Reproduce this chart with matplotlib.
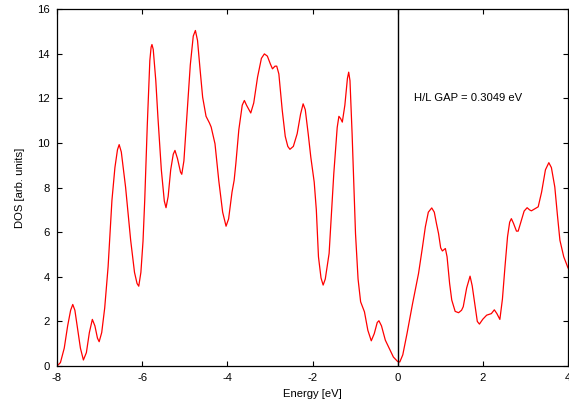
import matplotlib
matplotlib.use("Agg")
import matplotlib.pyplot as plt

energy = [-8.00, -7.92, -7.83, -7.75, -7.68, -7.63, -7.58, -7.52, -7.45, -7.38,
          -7.31, -7.24, -7.17, -7.11, -7.05, -7.01, -6.95, -6.88, -6.80, -6.71,
          -6.64, -6.58, -6.54, -6.49, -6.39, -6.27, -6.18, -6.12, -6.08, -6.03,
          -5.98, -5.94, -5.88, -5.82, -5.79, -5.77, -5.74, -5.68, -5.63, -5.55,
          -5.48, -5.44, -5.39, -5.33, -5.27, -5.23, -5.17, -5.10, -5.07, -5.02,
          -4.95, -4.87, -4.80, -4.75, -4.70, -4.64, -4.58, -4.50, -4.42, -4.38,
          -4.29, -4.20, -4.11, -4.03, -3.97, -3.89, -3.84, -3.80, -3.73, -3.65,
          -3.60, -3.55, -3.45, -3.38, -3.29, -3.20, -3.13, -3.06, -2.99, -2.94,
          -2.88, -2.84, -2.79, -2.71, -2.64, -2.58, -2.53, -2.45, -2.36, -2.28,
          -2.22, -2.17, -2.10, -2.04, -1.96, -1.91, -1.86, -1.80, -1.75, -1.70,
          -1.61, -1.50, -1.42, -1.38, -1.34, -1.30, -1.24, -1.18, -1.15, -1.12,
          -1.07, -0.99, -0.93, -0.87, -0.78, -0.70, -0.62, -0.55, -0.48, -0.44,
          -0.38, -0.29, -0.20, -0.10, 0.00, 0.05, 0.12, 0.22, 0.35, 0.49,
          0.58, 0.65, 0.72, 0.80, 0.86, 0.91, 0.96, 1.01, 1.05, 1.12,
          1.16, 1.22, 1.27, 1.35, 1.43, 1.50, 1.54, 1.62, 1.70, 1.75,
          1.82, 1.87, 1.92, 2.00, 2.09, 2.20, 2.27, 2.33, 2.40, 2.46,
          2.52, 2.58, 2.63, 2.67, 2.72, 2.79, 2.83, 2.90, 2.97, 3.04,
          3.10, 3.14, 3.22, 3.30, 3.38, 3.47, 3.55, 3.61, 3.69, 3.75,
          3.81, 3.90, 4.00]
dos = [0.00, 0.15, 0.80, 1.80, 2.50, 2.76, 2.50, 1.70, 0.80, 0.27,
       0.60, 1.50, 2.09, 1.80, 1.25, 1.09, 1.50, 2.60, 4.45, 7.43,
       8.90, 9.70, 9.93, 9.60, 8.03, 5.64, 4.20, 3.70, 3.58, 4.20,
       5.60, 7.43, 10.80, 13.70, 14.30, 14.42, 14.20, 12.80, 11.16, 8.80,
       7.40, 7.10, 7.60, 8.80, 9.50, 9.67, 9.30, 8.70, 8.60, 9.20,
       11.20, 13.50, 14.80, 15.05, 14.60, 13.30, 12.06, 11.20, 10.90, 10.72,
       9.97, 8.30, 6.90, 6.27, 6.60, 7.80, 8.33, 9.08, 10.60, 11.70,
       11.91, 11.70, 11.35, 11.80, 12.96, 13.80, 14.00, 13.90, 13.55, 13.33,
       13.45, 13.45, 13.10, 11.46, 10.30, 9.85, 9.72, 9.85, 10.42, 11.30,
       11.76, 11.50, 10.40, 9.37, 8.25, 7.00, 4.90, 3.95, 3.63, 3.90,
       5.05, 8.63, 10.70, 11.20, 11.10, 10.94, 11.70, 12.90, 13.18, 12.80,
       10.42, 5.94, 3.90, 2.88, 2.43, 1.60, 1.13, 1.45, 1.95, 2.03,
       1.80, 1.16, 0.80, 0.40, 0.20, 0.18, 0.50, 1.46, 2.80, 4.15,
       5.30, 6.24, 6.90, 7.09, 6.90, 6.40, 5.94, 5.30, 5.16, 5.27,
       4.90, 3.70, 2.96, 2.45, 2.39, 2.50, 2.66, 3.50, 4.03, 3.60,
       2.66, 2.00, 1.88, 2.10, 2.28, 2.35, 2.52, 2.35, 2.09, 3.00,
       4.45, 5.80, 6.45, 6.61, 6.40, 6.05, 6.05, 6.50, 6.95, 7.10,
       7.00, 6.96, 7.05, 7.14, 7.80, 8.80, 9.12, 8.90, 8.03, 6.80,
       5.64, 4.90, 4.40]

x_ticks = [-8, -6, -4, -2, 0, 2, 4]
y_ticks = [0, 2, 4, 6, 8, 10, 12, 14, 16]
gap_label = "H/L GAP = 0.3049 eV"
fermi = 0.0

plt.rcParams['font.family'] = ['Liberation Sans', 'DejaVu Sans']

fig = plt.figure(figsize=(5.69, 4.03), dpi=100)
ax = fig.add_axes([57/569, 37/403, 511/569, 356.7/403])

ax.plot(energy, dos, color='#ff0000', lw=0.9, solid_joinstyle='round')
ax.axvline(fermi, color='black', lw=1.0)
ax.text(0.39, 12.0, gap_label, ha='left', va='center', fontsize=8.1)

ax.set_xlim(-8, 4)
ax.set_ylim(0, 16)
ax.set_xticks(x_ticks)
ax.set_yticks(y_ticks)
ax.set_xticklabels([str(t) for t in x_ticks])
ax.set_yticklabels([str(t) for t in y_ticks])
ax.tick_params(direction='in', top=True, right=True, length=3.5, width=0.8,
               labelsize=8.1, pad=5)
for s in ax.spines.values():
    s.set_linewidth(0.9)
ax.set_xlabel("Energy [eV]", fontsize=8.1, labelpad=4.5)
ax.set_ylabel("DOS [arb. units]", fontsize=8.1, labelpad=9)

fig.savefig("out.png", dpi=100)
